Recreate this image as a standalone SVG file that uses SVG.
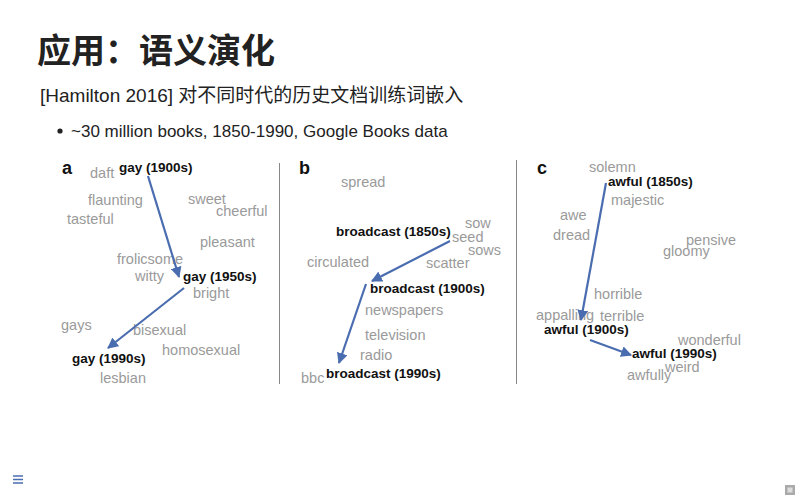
<svg xmlns="http://www.w3.org/2000/svg" width="800" height="500" viewBox="0 0 800 500">
<style>
.t{font-family:"Liberation Sans","Noto Sans CJK SC",sans-serif}
.cj{font-family:"Noto Sans CJK SC","Liberation Sans",sans-serif}
.w{font-family:"Liberation Sans",Arial,sans-serif;font-size:14.5px;fill:#9a9a9a}
.k{font-family:"Liberation Sans",Arial,sans-serif;font-size:13.5px;font-weight:bold;fill:#111}
.p{font-family:"Liberation Sans",Arial,sans-serif;font-size:18px;font-weight:bold;fill:#111}
.ar{stroke:#4a6db0;stroke-width:2.2;fill:none;marker-end:url(#ah)}
.sep{stroke:#888;stroke-width:1}
</style>
<defs>
<marker id="ah" viewBox="0 0 10 10" refX="9" refY="5" markerWidth="5" markerHeight="5" orient="auto" markerUnits="strokeWidth">
<path d="M0,0 L10,5 L0,10 z" fill="#4a6db0"/>
</marker>
</defs>
<rect width="800" height="500" fill="#fff"/>
<g id="title">
<text class="cj" x="37" y="63" font-size="34" font-weight="bold" fill="#222">应用：语义演化</text>
<text class="t" x="40" y="102" font-size="19" fill="#222">[Hamilton 2016] 对不同时代的历史文档训练词嵌入</text>
<circle cx="60" cy="131" r="2.6" fill="#222"/>
<text class="t" x="71" y="137" font-size="17" fill="#222">~30 million books, 1850-1990, Google Books data</text>
</g>
<g id="separators">
<line class="sep" x1="279.5" y1="163" x2="279.5" y2="384"/>
<line class="sep" x1="516.5" y1="160" x2="516.5" y2="384"/>
</g>
<g id="panel-a">
<text class="p" x="62" y="174">a</text>
<text class="w" x="90" y="178">daft</text>
<text class="w" x="88" y="205">flaunting</text>
<text class="w" x="188" y="204">sweet</text>
<text class="w" x="216" y="216">cheerful</text>
<text class="w" x="67" y="224">tasteful</text>
<text class="w" x="200" y="247">pleasant</text>
<text class="w" x="117" y="264">frolicsome</text>
<text class="w" x="135" y="281">witty</text>
<text class="w" x="193" y="298">bright</text>
<text class="w" x="61" y="330">gays</text>
<text class="w" x="133" y="335">bisexual</text>
<text class="w" x="162" y="355">homosexual</text>
<text class="w" x="100" y="383">lesbian</text>
<g id="gay1900"><text class="k" x="119" y="172">gay (1900s)</text></g>
<g id="gay1950"><text class="k" x="183" y="281">gay (1950s)</text></g>
<g id="gay1990"><text class="k" x="72" y="363">gay (1990s)</text></g>
</g>
<g id="panel-b">
<text class="p" x="299" y="174">b</text>
<text class="w" x="341" y="187">spread</text>
<text class="w" x="465" y="228">sow</text>
<text class="w" x="452" y="242">seed</text>
<text class="w" x="468" y="255">sows</text>
<text class="w" x="307" y="267">circulated</text>
<text class="w" x="426" y="268">scatter</text>
<text class="w" x="365" y="315">newspapers</text>
<text class="w" x="365" y="340">television</text>
<text class="w" x="360" y="360">radio</text>
<text class="w" x="301" y="383">bbc</text>
<g id="bc1850"><text class="k" x="336" y="236">broadcast (1850s)</text></g>
<g id="bc1900"><text class="k" x="370" y="293">broadcast (1900s)</text></g>
<g id="bc1990"><text class="k" x="326" y="378">broadcast (1990s)</text></g>
</g>
<g id="panel-c">
<text class="p" x="537" y="174">c</text>
<text class="w" x="589" y="172">solemn</text>
<text class="w" x="611" y="205">majestic</text>
<text class="w" x="560" y="220">awe</text>
<text class="w" x="553" y="240">dread</text>
<text class="w" x="686" y="245">pensive</text>
<text class="w" x="663" y="256">gloomy</text>
<text class="w" x="594" y="299">horrible</text>
<text class="w" x="536" y="320">appalling</text>
<text class="w" x="600" y="321">terrible</text>
<text class="w" x="678" y="345">wonderful</text>
<text class="w" x="665" y="372">weird</text>
<text class="w" x="627" y="380">awfully</text>
<g id="aw1850"><text class="k" x="608" y="186">awful (1850s)</text></g>
<g id="aw1900"><text class="k" x="544" y="334">awful (1900s)</text></g>
<g id="aw1990"><text class="k" x="632" y="358">awful (1990s)</text></g>
</g>
<g id="connectors">
<line class="ar" x1="148" y1="176" x2="179" y2="277"/>
<line class="ar" x1="184" y1="288" x2="108" y2="348"/>
<line class="ar" x1="450" y1="241" x2="372" y2="281"/>
<line class="ar" x1="366" y1="284" x2="339" y2="363"/>
<line class="ar" x1="606" y1="183" x2="581" y2="320"/>
<line class="ar" x1="590" y1="340" x2="631" y2="355"/>
</g>
<g id="footer">
<g stroke="#4a6db0" stroke-width="1.5">
<line x1="13" y1="476" x2="23" y2="476"/>
<line x1="13" y1="479.5" x2="23" y2="479.5"/>
<line x1="13" y1="483" x2="23" y2="483"/>
</g>
<rect x="785" y="485" width="10" height="10" fill="#aaa"/>
<rect x="787.5" y="487.5" width="5" height="5" fill="#ddd"/>
</g>
</svg>
